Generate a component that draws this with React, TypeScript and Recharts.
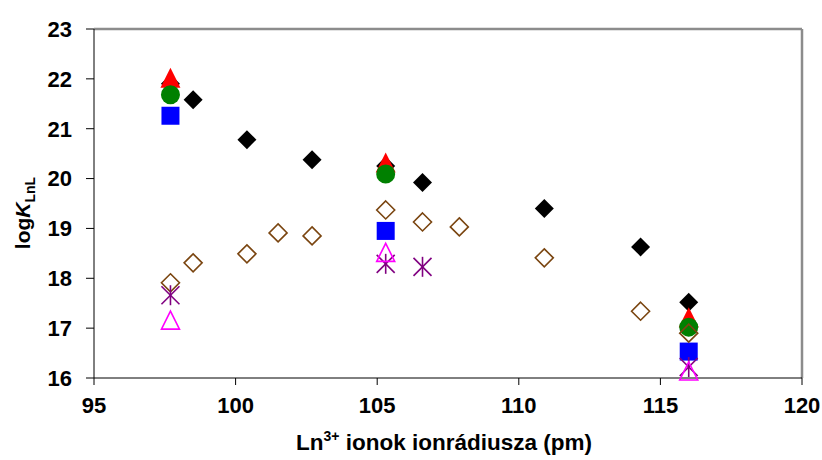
import React from 'react';
import { ScatterChart, Scatter, XAxis, YAxis, ReferenceLine } from 'recharts';

// Ln3+ ionic radii (pm) and log K values per ligand series
const blackX = [97.7, 98.5, 100.4, 102.7, 105.3, 106.6, 110.9, 114.3, 116.0];
const blackY = [21.9, 21.58, 20.78, 20.38, 20.25, 19.92, 19.4, 18.63, 17.52];

const tripleX = [97.7, 105.3, 116.0];
const redY = [22.0, 20.3, 17.2];
const greenY = [21.68, 20.09, 17.02];
const blueY = [21.26, 18.95, 16.53];
const magentaY = [17.14, 18.5, 16.12];

const brownX = [97.7, 98.5, 100.4, 101.5, 102.7, 105.3, 106.6, 107.9, 110.9, 114.3, 116.0];
const brownY = [17.91, 18.31, 18.49, 18.91, 18.85, 19.37, 19.13, 19.03, 18.41, 17.34, 16.9];

const purpleX = [97.7, 105.3, 106.6, 116.0];
const purpleY = [17.66, 18.29, 18.23, 16.22];

const xTicks = [95, 100, 105, 110, 115, 120];
const yTicks = [16, 17, 18, 19, 20, 21, 22, 23];

const toPoints = (xs: number[], ys: number[]) => xs.map((x, i) => ({ x, y: ys[i] }));

const FONT = '"Liberation Sans", Arial, sans-serif';
const tickStyle = { fill: '#000', fontSize: 22, fontWeight: 'bold', fontFamily: FONT };

const FilledDiamond = ({ cx, cy }: any) => (
  <polygon points={`${cx},${cy - 9.5} ${cx + 9.5},${cy} ${cx},${cy + 9.5} ${cx - 9.5},${cy}`} fill="#000" />
);
const RedTriangle = ({ cx, cy }: any) => (
  <polygon points={`${cx},${cy - 11} ${cx + 10},${cy + 9} ${cx - 10},${cy + 9}`} fill="#ff0000" />
);
const GreenCircle = ({ cx, cy }: any) => <circle cx={cx} cy={cy} r={9.5} fill="#008000" />;
const BlueSquare = ({ cx, cy }: any) => <rect x={cx - 9} y={cy - 9} width={18} height={18} fill="#0000ff" />;
const OpenDiamond = ({ cx, cy }: any) => (
  <polygon
    points={`${cx},${cy - 9} ${cx + 9},${cy} ${cx},${cy + 9} ${cx - 9},${cy}`}
    fill="none"
    stroke="#7a4510"
    strokeWidth={1.6}
  />
);
const Asterisk = ({ cx, cy }: any) => (
  <g stroke="#800080" strokeWidth={1.6}>
    <line x1={cx - 9} y1={cy - 9} x2={cx + 9} y2={cy + 9} />
    <line x1={cx - 9} y1={cy + 9} x2={cx + 9} y2={cy - 9} />
    <line x1={cx} y1={cy - 10} x2={cx} y2={cy + 10} />
  </g>
);
const OpenTriangle = ({ cx, cy }: any) => (
  <polygon
    points={`${cx},${cy - 10} ${cx + 9},${cy + 8} ${cx - 9},${cy + 8}`}
    fill="none"
    stroke="#ff00ff"
    strokeWidth={1.6}
  />
);

const YTitle = () => (
  <text
    transform="translate(30, 213) rotate(-90)"
    textAnchor="middle"
    fontFamily={FONT}
    fontWeight="bold"
    fontSize={21}
    fill="#000"
  >
    log
    <tspan fontStyle="italic">K</tspan>
    <tspan fontSize={14} dy={5}>LnL</tspan>
  </text>
);

const XTitle = () => (
  <text x={444} y={450} textAnchor="middle" fontFamily={FONT} fontWeight="bold" fontSize={22.5} fill="#000">
    Ln
    <tspan fontSize={14} dy={-9}>3+</tspan>
    <tspan dy={9}> ionok ionrádiusza (pm)</tspan>
  </text>
);

export default function App() {
  return (
    <div style={{ position: 'absolute', left: 0, top: 0, width: 822, height: 460, background: '#fff' }}>
      <ScatterChart width={822} height={460} margin={{ top: 29, right: 20, left: 0, bottom: 0 }}>
        <XAxis
          type="number"
          dataKey="x"
          domain={[95, 120]}
          ticks={xTicks}
          height={82}
          tickSize={7}
          tickMargin={12}
          stroke="#000"
          tick={tickStyle}
          label={{ content: () => <XTitle /> }}
        />
        <YAxis
          type="number"
          dataKey="y"
          domain={[16, 23]}
          ticks={yTicks}
          width={94}
          tickSize={8}
          tickMargin={14}
          stroke="#000"
          tick={tickStyle}
          label={{ content: () => <YTitle /> }}
        />
        <ReferenceLine y={23} stroke="#8c8c8c" strokeWidth={2.5} />
        <ReferenceLine x={120} stroke="#8c8c8c" strokeWidth={2.5} />
        <Scatter data={toPoints(blackX, blackY)} shape={FilledDiamond} isAnimationActive={false} />
        <Scatter data={toPoints(tripleX, redY)} shape={RedTriangle} isAnimationActive={false} />
        <Scatter data={toPoints(tripleX, greenY)} shape={GreenCircle} isAnimationActive={false} />
        <Scatter data={toPoints(tripleX, blueY)} shape={BlueSquare} isAnimationActive={false} />
        <Scatter data={toPoints(brownX, brownY)} shape={OpenDiamond} isAnimationActive={false} />
        <Scatter data={toPoints(purpleX, purpleY)} shape={Asterisk} isAnimationActive={false} />
        <Scatter data={toPoints(tripleX, magentaY)} shape={OpenTriangle} isAnimationActive={false} />
      </ScatterChart>
    </div>
  );
}
